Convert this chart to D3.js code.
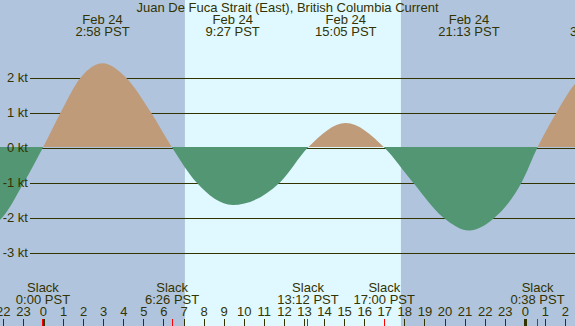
<!DOCTYPE html>
<html>
<head>
<meta charset="utf-8">
<script src="https://cdn.jsdelivr.net/npm/d3@7"></script>
<style>
  body { margin: 0; }
  svg { display: block; font-family: "Liberation Sans", Arial, sans-serif; }
  text { fill: #333300; font-size: 13px; }
</style>
</head>
<body>
<svg width="575" height="326"></svg>
<script>
const svg = d3.select("svg");
const width = +svg.attr("width");
const height = +svg.attr("height");

// hours are counted from midnight Feb 24 (PST)
const title = "Juan De Fuca Strait (East), British Columbia Current";
const sunrise = 7.07;
const sunset = 17.83;

// current speed (kt)
const curveHours = [-3.6, -2.14, -0.95, 0, 0.88, 1.88, 2.97, 4.13, 5.38, 6.43, 7.65, 9.45, 11.8,
  13.2, 15.08, 17, 18.43, 19.94, 21.22, 22.5, 23.84, 24.63, 25.58, 26.5, 27.6];
const curveSpeeds = [-2.45, -2.07, -1, 0, 1, 2, 2.41, 2, 1, 0, -1, -1.64, -1,
  0, 0.7, 0, -1, -2, -2.37, -2, -1, 0, 1, 1.82, 2.3];

// max current events (top labels)
const maxDays = ["Feb 24", "Feb 24", "Feb 24", "Feb 24", "Feb 25"];
const maxDayOffset = [0, 0, 0, 0, 1];
const maxTimes = ["2:58", "9:27", "15:05", "21:13", "3:36"];

// slack events (bottom labels, red ticks)
const slackDayOffset = [0, 0, 0, 0, 1];
const slackTimes = ["0:00", "6:26", "13:12", "17:00", "0:38"];

const speedTicks = [2, 1, 0, -1, -2, -3];
const hourTicks = d3.range(-2, 27);

const toHours = (t, day) => {
  const [h, m] = t.split(":").map(Number);
  return day * 24 + h + m / 60;
};

const x = d3.scaleLinear().domain([-2.14, 26.5]).range([0, width]);
const y = d3.scaleLinear().domain([-3, 2]).range([252.5, 77.5]);
const zeroEdge = 147;

// night / day background
svg.append("rect")
  .attr("width", width).attr("height", height)
  .attr("fill", "#b0c4de");
svg.append("rect")
  .attr("x", x(sunrise)).attr("width", x(sunset) - x(sunrise))
  .attr("height", height)
  .attr("fill", "#e0f8ff");

// grid lines
const grid = svg.append("g")
  .attr("transform", "translate(30,0)")
  .call(d3.axisLeft(y).tickValues(speedTicks).tickSize(-(width - 30)).tickFormat(""));
grid.select(".domain").remove();
grid.selectAll(".tick line")
  .attr("stroke", "#333300")
  .attr("shape-rendering", "crispEdges");

// current area
const points = curveHours.map((h, i) => ({ h, v: curveSpeeds[i] }));
const area = d3.area()
  .x((d) => x(d.h))
  .y0(zeroEdge)
  .y1((d) => y(d.v))
  .curve(d3.curveMonotoneX);

const defs = svg.append("defs");
defs.append("clipPath").attr("id", "flood")
  .append("rect").attr("width", width).attr("height", zeroEdge);
defs.append("clipPath").attr("id", "ebb")
  .append("rect").attr("y", zeroEdge).attr("width", width).attr("height", height - zeroEdge);

svg.append("path")
  .datum(points)
  .attr("d", area)
  .attr("fill", "#bf9b7a")
  .attr("clip-path", "url(#flood)");
svg.append("path")
  .datum(points)
  .attr("d", area)
  .attr("fill", "#529673")
  .attr("clip-path", "url(#ebb)");

// y labels
const yLabels = svg.append("g")
  .attr("transform", "translate(30,0)")
  .call(d3.axisLeft(y).tickValues(speedTicks).tickSize(0).tickPadding(2)
    .tickFormat((d) => d + " kt"));
yLabels.select(".domain").remove();
yLabels.selectAll("text").attr("fill", null).style("font-size", "13px");

// hour axis
const hourAxis = svg.append("g")
  .attr("transform", `translate(0,${height})`)
  .call(d3.axisTop(x).tickValues(hourTicks).tickSize(7).tickPadding(3)
    .tickFormat((d) => ((d % 24) + 24) % 24));
hourAxis.select(".domain").remove();
hourAxis.selectAll(".tick line")
  .attr("stroke", "#333300")
  .attr("shape-rendering", "crispEdges")
  .attr("stroke-width", (d) => (d % 24 === 0 ? 3 : 1));
hourAxis.selectAll("text").attr("fill", null).style("font-size", "13px");

// slack ticks
const slackHours = slackTimes.map((t, i) => toHours(t, slackDayOffset[i]));
svg.append("g")
  .selectAll("line")
  .data(slackHours)
  .join("line")
  .attr("x1", (d) => x(d)).attr("x2", (d) => x(d))
  .attr("y1", height - 7).attr("y2", height)
  .attr("stroke", "red")
  .attr("shape-rendering", "crispEdges");

const slackG = svg.append("g")
  .selectAll("g")
  .data(slackHours)
  .join("g")
  .attr("transform", (d) => `translate(${x(d)},0)`)
  .attr("text-anchor", "middle");
slackG.append("text").attr("y", 292).text("Slack");
slackG.append("text").attr("y", 304).text((d, i) => slackTimes[i] + " PST");

// max labels
const maxHours = maxTimes.map((t, i) => toHours(t, maxDayOffset[i]));
const maxG = svg.append("g")
  .selectAll("g")
  .data(maxHours)
  .join("g")
  .attr("transform", (d) => `translate(${x(d)},0)`)
  .attr("text-anchor", "middle");
maxG.append("text").attr("y", 24).text((d, i) => maxDays[i]);
maxG.append("text").attr("y", 36).text((d, i) => maxTimes[i] + " PST");

// title
svg.append("text")
  .attr("x", width / 2)
  .attr("y", 12)
  .attr("text-anchor", "middle")
  .text(title);
</script>
</body>
</html>
